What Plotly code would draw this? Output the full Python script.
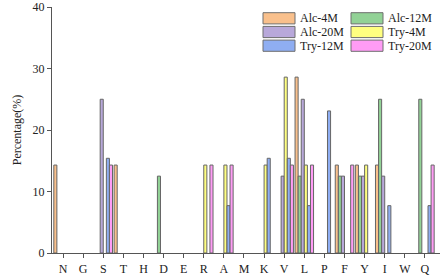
import plotly.graph_objects as go

categories = ["N", "G", "S", "T", "H", "D", "E", "R", "A", "M", "K", "V", "L", "P", "F", "Y", "I", "W", "Q"]
series_names = ["Alc-4M", "Alc-12M", "Alc-20M", "Try-4M", "Try-12M", "Try-20M"]
series_colors = ["#F9C08C", "#92D296", "#B8A8DA", "#FFFF80", "#8FAEF2", "#FF9CF5"]

# values (%) per category, None = no bar
alc_4m = [14.3, None, None, 14.3, None, None, None, None, None, None, None, None, 28.6, None, 14.3, 14.3, 14.3, None, None]
alc_12m = [None, None, None, None, None, 12.5, None, None, None, None, None, None, 12.5, None, 12.5, 12.5, 25.0, None, 25.0]
alc_20m = [None, None, 25.0, None, None, None, None, None, None, None, None, 12.5, 25.0, None, 12.5, 12.5, 12.5, None, None]
try_4m = [None, None, None, None, None, None, None, 14.3, 14.3, None, 14.3, 28.6, 14.3, None, None, 14.3, None, None, None]
try_12m = [None, None, 15.4, None, None, None, None, None, 7.7, None, 15.4, 15.4, 7.7, 23.1, None, None, 7.7, None, 7.7]
try_20m = [None, None, 14.3, None, None, None, None, 14.3, 14.3, None, None, 14.3, 14.3, None, 14.3, None, None, None, 14.3]

series_values = [alc_4m, alc_12m, alc_20m, try_4m, try_12m, try_20m]
y_ticks = [0, 10, 20, 30, 40]

FONT = "Liberation Serif, Times New Roman, serif"
W, H = 447, 275
ML, MR, MT, MB = 52, 7, 7, 22
PW, PH = W - ML - MR, H - MT - MB

fig = go.Figure()
for name, color, vals in zip(series_names, series_colors, series_values):
    fig.add_trace(go.Bar(
        x=categories, y=vals, name=name,
        marker=dict(color=color, line=dict(color="#666666", width=1)),
        showlegend=False,
    ))

def px_x(px):
    return (px - ML) / PW

def px_y(py):
    return (H - MB - py) / PH

# manual two-column legend (row-major order like the original)
shapes = []
annotations = []
col_swatch = [(263, 295), (351, 383)]
col_text = [298, 386]
row_centers = [18.3, 32.0, 45.7]
for i, (name, color) in enumerate(zip(series_names, series_colors)):
    r, c = divmod(i, 2)
    x0, x1 = col_swatch[c]
    yc = row_centers[r]
    shapes.append(dict(type="rect", xref="paper", yref="paper",
                       x0=px_x(x0), x1=px_x(x1), y0=px_y(yc + 5.6), y1=px_y(yc - 5.6),
                       fillcolor=color, line=dict(color="#6E6E6E", width=1)))
    annotations.append(dict(xref="paper", yref="paper", x=px_x(col_text[c]), y=px_y(yc),
                            xanchor="left", yanchor="middle", text=name, showarrow=False,
                            font=dict(family=FONT, size=12, color="#222")))

fig.update_layout(
    width=W, height=H,
    margin=dict(l=ML, r=MR, t=MT, b=MB, pad=0, autoexpand=False),
    paper_bgcolor="white", plot_bgcolor="white",
    barmode="group", bargap=0.08, bargroupgap=0,
    font=dict(family=FONT, size=12, color="#222"),
    shapes=shapes, annotations=annotations,
    xaxis=dict(
        type="category", range=[-0.55, 18.75], automargin=False,
        showline=True, linecolor="#555", linewidth=1.3,
        ticks="outside", ticklen=4, tickcolor="#555", tickwidth=1.2,
        showgrid=False, zeroline=False,
        tickfont=dict(family=FONT, size=12, color="#222"),
    ),
    yaxis=dict(
        range=[0, 40], tickvals=y_ticks, automargin=False,
        showline=True, linecolor="#555", linewidth=1.3,
        ticks="outside", ticklen=4, tickcolor="#555", tickwidth=1.2,
        showgrid=False, zeroline=False,
        tickfont=dict(family=FONT, size=12, color="#222"),
        title=dict(text="Percentage(%)", standoff=8, font=dict(family=FONT, size=12, color="#222")),
    ),
)

fig.write_html("out.html", config={"displayModeBar": False},
               post_script="document.body.style.margin='0px';document.body.style.overflow='hidden';")
